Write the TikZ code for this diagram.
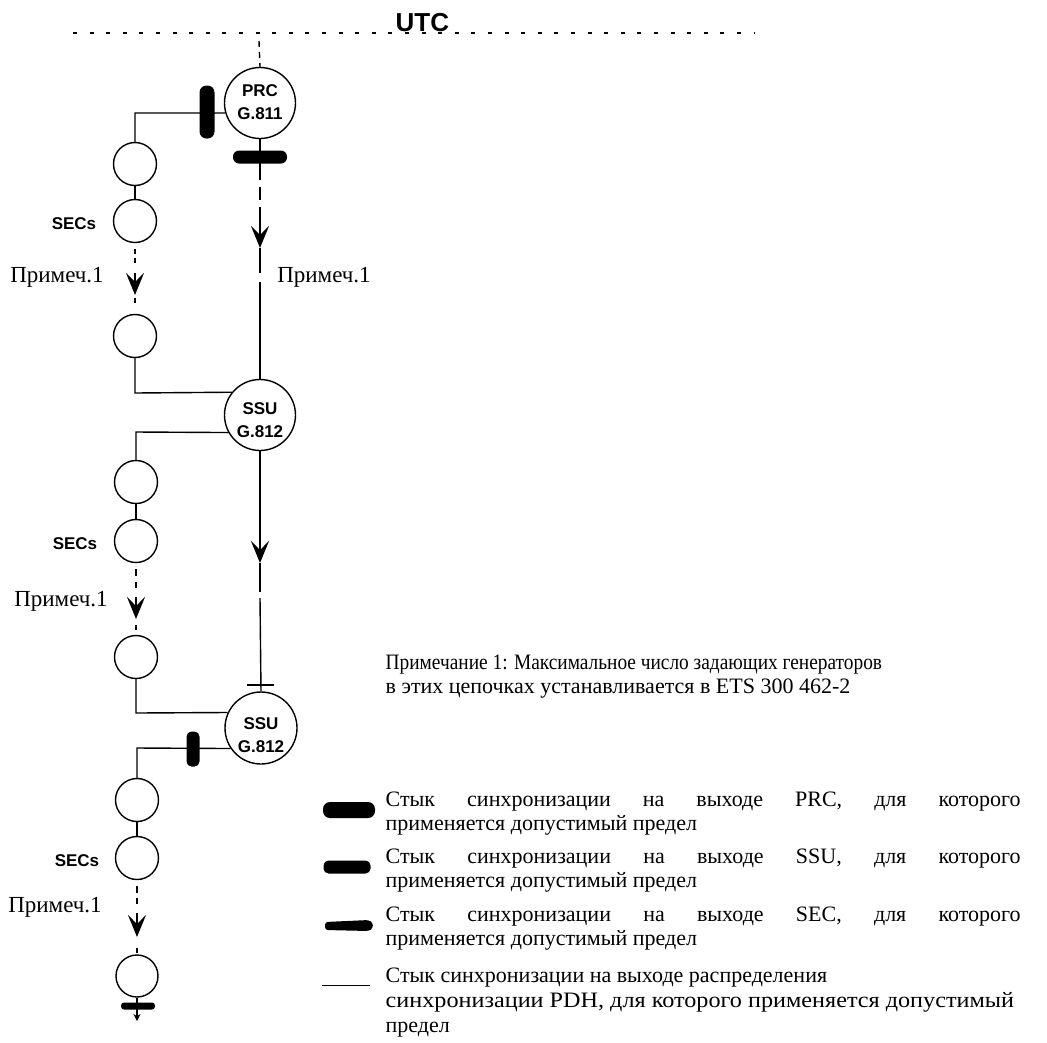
\documentclass[tikz,border=0pt]{standalone}
\usepackage{fontspec}
\setmainfont{Liberation Serif}
\setsansfont{Liberation Sans}
\usetikzlibrary{arrows.meta}
\newcommand\txtfont{\fontsize{22}{24}\selectfont}
\newcommand\lblfont{\fontsize{23}{26}\selectfont}
\begin{document}
\begin{tikzpicture}[x=1pt,y=-1pt,line width=1.4pt,
  big/.style={circle,draw,minimum size=71pt,inner sep=0pt},
  bigtxt/.style={inner sep=0pt,align=center,font=\sffamily\bfseries\fontsize{17}{23}\selectfont},
  small/.style={circle,draw,minimum size=43pt,inner sep=0pt},
  arr/.style={-{Stealth[length=22pt,width=18pt,inset=9pt]}},
  barv/.style={fill=black,rounded corners=7pt,minimum width=15pt,minimum height=53pt,inner sep=0pt},
  barh/.style={fill=black,rounded corners=6pt,minimum width=54pt,minimum height=13pt,inner sep=0pt},
  ssubarv/.style={fill=black,rounded corners=5pt,minimum width=13pt,minimum height=35pt,inner sep=0pt},
  secbarh/.style={fill=black,rounded corners=3pt,minimum width=34pt,minimum height=7pt,inner sep=0pt},
  seclbl/.style={font=\sffamily\bfseries\fontsize{17}{17}\selectfont,inner sep=0pt},
  note/.style={font=\lblfont,inner sep=0pt},
  leg/.style={font=\txtfont,inner sep=0pt,anchor=base west}]
\fill[white] (0,0) rectangle (1047,1042);
\useasboundingbox (0,0) rectangle (1047,1042);

% UTC line
\coordinate (utcL) at (73,33);
\coordinate (utcR) at (755,33);
\draw[line width=1.3pt,dash pattern=on 4pt off 12.6pt] (utcL) -- (utcR);
\node[font=\sffamily\bfseries\fontsize{26}{26}\selectfont,inner sep=0pt,anchor=base west] (utc) at (395,31) {UTC};

% PRC
\node[big] (prc) at (260,103) {};
\node[bigtxt] (prct) at (260,102) {PRC\\G.811};
\coordinate (utcQ) at (259,41);
\draw[dash pattern=on 6pt off 5pt] (utcQ) -- (prc.north);

% left chain 1
\coordinate (k1) at (135,113);
\node[small] (l1) at (135,164) {};
\node[small] (l2) at (135,221) {};
\node[small] (l3) at (135,336) {};
\draw (prc.196) -- (k1) -- (l1.north);
\node[barv] (b1) at (207,112) {};
\draw (l1) -- (l2);
\coordinate (d1a) at (135,249); \coordinate (d1b) at (135,254);
\coordinate (d1e) at (135,258); \coordinate (d1f) at (135,263);
\coordinate (a1s) at (135,273); \coordinate (a1t) at (135,295);
\coordinate (d1c) at (135,298); \coordinate (d1d) at (135,303);
\draw (d1a) -- (d1b);
\draw (d1e) -- (d1f);
\draw[arr] (a1s) -- (a1t);
\draw (d1c) -- (d1d);
\node[seclbl] (sec1) at (74,224) {SECs};
\node[note,anchor=base] (n1) at (57,282) {Примеч.1};

% right line PRC -> SSU1
\node[barh] (b2) at (260,157) {};
\coordinate (r1a) at (260,180);
\coordinate (r1b) at (260,187); \coordinate (r1c) at (260,200);
\coordinate (r1d) at (260,207); \coordinate (r1t) at (260,248);
\coordinate (r1e) at (260,273); \coordinate (r1f) at (260,282);
\draw (prc.south) -- (r1a);
\draw (r1b) -- (r1c);
\draw[arr] (r1d) -- (r1t);
\draw (r1t) -- (r1e);
\node[note,anchor=base] (n2) at (324,282) {Примеч.1};

% SSU1
\node[big] (ssu1) at (260,415) {};
\node[bigtxt] (ssu1t) at (260,420) {SSU\\G.812};
\draw (r1f) -- (ssu1.north);
\coordinate (k2) at (135,393);
\draw (l3.south) -- (k2) -- (ssu1.141);

% left chain 2
\coordinate (k3) at (136,432);
\node[small] (a) at (136,482) {};
\node[small] (b) at (136,541) {};
\node[small] (c) at (136,657) {};
\draw (ssu1.209) -- (k3) -- (a.north);
\draw (a) -- (b);
\coordinate (d2a) at (136,569); \coordinate (d2b) at (136,576);
\coordinate (d2e) at (136,582); \coordinate (d2f) at (136,588);
\coordinate (a2s) at (136,597); \coordinate (a2t) at (136,619);
\coordinate (d2c) at (136,625); \coordinate (d2d) at (136,630);
\draw (d2a) -- (d2b);
\draw (d2e) -- (d2f);
\draw[arr] (a2s) -- (a2t);
\draw (d2c) -- (d2d);
\node[seclbl] (sec2) at (75,544) {SECs};
\node[note,anchor=base] (n3) at (61,606) {Примеч.1};

% right line SSU1 -> SSU2
\coordinate (r2t) at (260,563);
\coordinate (r2a) at (260,592);
\coordinate (r2b) at (260,598);
\draw[arr] (ssu1.south) -- (r2t);
\draw (r2t) -- (r2a);
\node[big,minimum size=72pt] (ssu2) at (261,728) {};
\node[bigtxt] (ssu2t) at (261,735) {SSU\\G.812};
\draw (r2b) -- (ssu2.north);
\coordinate (t1) at (247,685); \coordinate (t2) at (274,685);
\draw[line width=1.2pt] (t1) -- (t2);
\coordinate (k4) at (136,713);
\draw (c.south) -- (k4) -- (ssu2.155);

% left chain 3
\coordinate (k5) at (137,748);
\node[small] (d) at (137,800) {};
\node[small] (e) at (137,858) {};
\node[small,minimum size=42pt] (f) at (137,976) {};
\draw (ssu2.214) -- (k5) -- (d.north);
\node[ssubarv] (b3) at (193,749) {};
\draw (d) -- (e);
\coordinate (d3a) at (137,886); \coordinate (d3b) at (137,893);
\coordinate (d3c) at (137,898); \coordinate (d3d) at (137,904);
\coordinate (a3s) at (137,913); \coordinate (a3t) at (137,937);
\coordinate (d3e) at (137,948); \coordinate (d3f) at (137,953);
\draw (d3a) -- (d3b);
\draw (d3c) -- (d3d);
\draw[arr] (a3s) -- (a3t);
\draw (d3e) -- (d3f);
\node[seclbl] (sec3) at (77,861) {SECs};
\node[note,anchor=base] (n4) at (55,912) {Примеч.1};
\coordinate (endp) at (137,1021);
\draw[line width=1.2pt,-{Stealth[length=7pt,width=7pt]}] (f.south) -- (endp);
\node[secbarh] (b4) at (138,1006) {};

% note
\node[leg] (nt1) at (385,669) {\scalebox{0.88}[1]{Примечание 1: Максимальное число задающих генераторов}};
\node[leg] (nt2) at (385,693) {в этих цепочках устанавливается в ETS 300 462-2};

% legend
\node[fill=black,rounded corners=7pt,minimum width=52pt,minimum height=16pt,inner sep=0pt] (s1) at (349,810) {};
\node[leg] (t11) at (385,806) {\makebox[635pt][s]{Стык синхронизации на выходе PRC, для которого}};
\node[leg] (t12) at (385,830) {применяется допустимый предел};

\node[fill=black,rounded corners=5pt,minimum width=47pt,minimum height=13pt,inner sep=0pt] (s2) at (347,867) {};
\node[leg] (t21) at (385,863) {\makebox[635pt][s]{Стык синхронизации на выходе SSU, для которого}};
\node[leg] (t22) at (385,887) {применяется допустимый предел};

\coordinate (s3a) at (325,926);
\fill[black,rounded corners=3pt] (s3a) ++(0,-4) -- ++(44,-2) -- ++(4,3) -- ++(0,5) -- ++(-4,3) -- ++(-44,-1) -- cycle;
\node[leg] (t31) at (385,921) {\makebox[635pt][s]{Стык синхронизации на выходе SEC, для которого}};
\node[leg] (t32) at (385,945) {применяется допустимый предел};

\coordinate (p1) at (322,985); \coordinate (p2) at (370,985);
\draw[line width=1pt] (p1) -- (p2);
\node[leg] (t41) at (385,982) {Стык синхронизации на выходе распределения};
\node[leg] (t42) at (385,1007) {\scalebox{1.1}[1]{синхронизации PDH, для которого применяется допустимый}};
\node[leg] (t43) at (385,1032) {предел};
\end{tikzpicture}
\end{document}
